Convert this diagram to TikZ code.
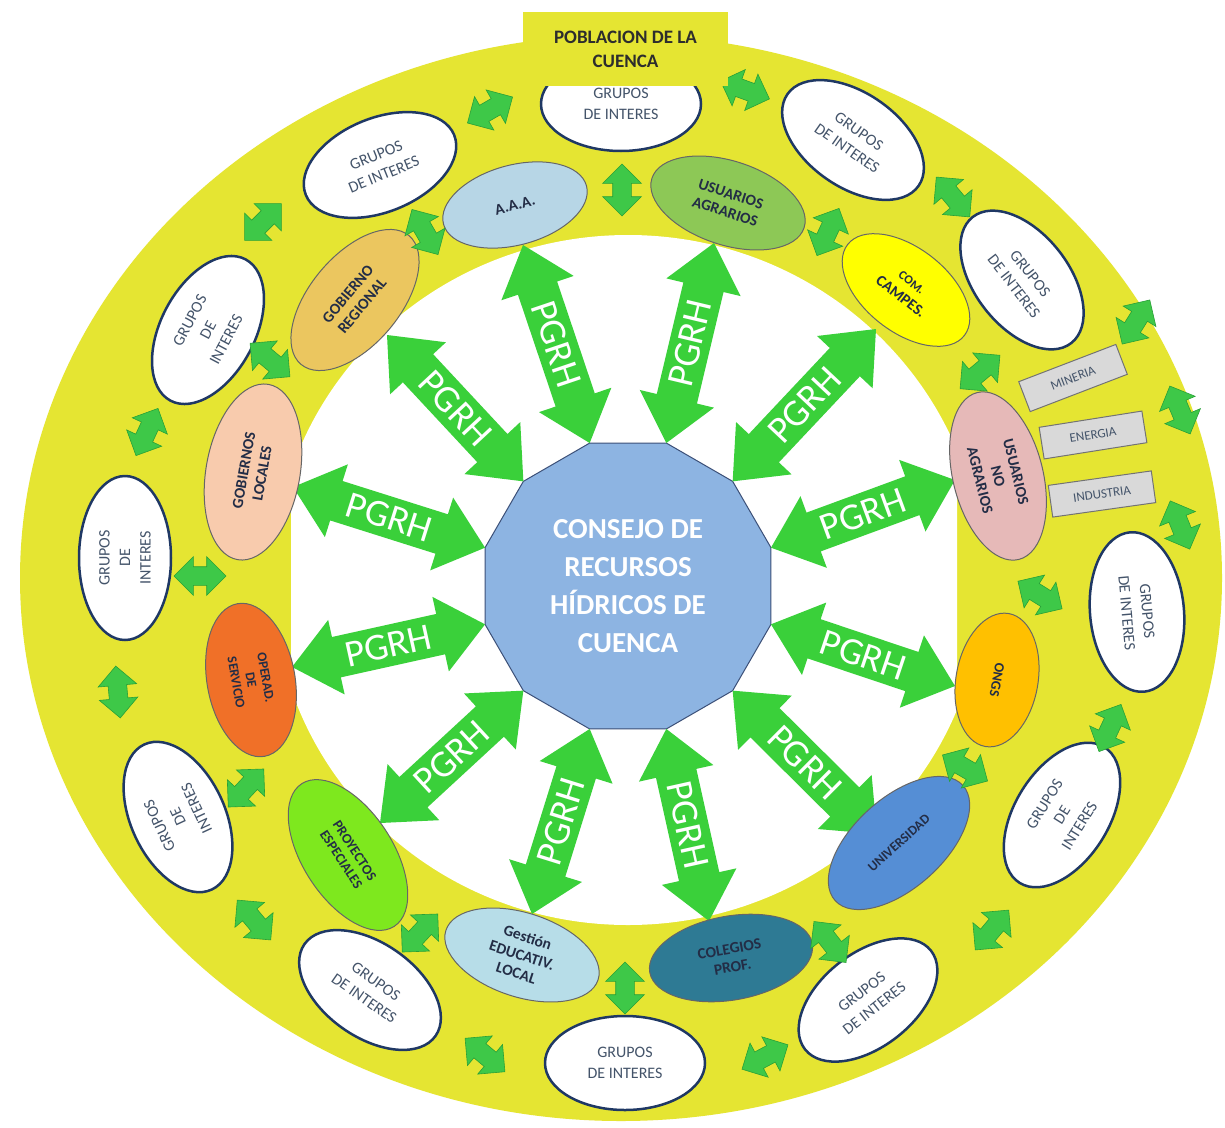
\documentclass[tikz,border=0pt]{standalone}
\usepackage{fontspec}
\setmainfont{Carlito}
\usetikzlibrary{shapes.geometric,shapes.arrows,calc}

\definecolor{band}{RGB}{229,229,50}
\definecolor{pgrhgreen}{RGB}{58,208,58}
\definecolor{linkgreen}{RGB}{62,200,72}
\definecolor{linkline}{RGB}{40,160,55}
\definecolor{navy}{RGB}{31,56,100}
\definecolor{slate}{RGB}{68,84,106}
\definecolor{ink}{RGB}{35,45,70}
\definecolor{titleink}{RGB}{45,45,45}
\definecolor{consejofill}{RGB}{141,180,226}
\definecolor{consejoline}{RGB}{60,80,120}
\definecolor{aaafill}{RGB}{183,214,230}
\definecolor{usagfill}{RGB}{141,200,86}
\definecolor{comcfill}{RGB}{255,255,0}
\definecolor{usnafill}{RGB}{230,185,184}
\definecolor{ongsfill}{RGB}{255,192,0}
\definecolor{univfill}{RGB}{85,142,213}
\definecolor{colegfill}{RGB}{46,122,148}
\definecolor{gestfill}{RGB}{183,221,232}
\definecolor{proyfill}{RGB}{126,232,30}
\definecolor{operfill}{RGB}{240,112,40}
\definecolor{goblfill}{RGB}{248,203,173}
\definecolor{gobrfill}{RGB}{235,198,95}

\tikzset{
  grupos/.style={ellipse, draw=navy, line width=2.5pt, fill=white, text=slate,
    inner sep=0pt, minimum width=160pt, minimum height=94pt, align=center,
    font=\fontsize{16}{20.5}\selectfont},
  actor/.style={ellipse, draw=black!60, line width=1pt, inner sep=0pt,
    minimum width=160pt, minimum height=84pt, align=center, text=ink,
    font=\bfseries\fontsize{15.5}{18.5}\selectfont},
  pgrh/.style={double arrow, fill=pgrhgreen, text=white, inner xsep=2pt,
    inner ysep=8pt, double arrow head extend=17.5pt, double arrow tip angle=80,
    font=\fontsize{38}{38}\selectfont},
  link/.style={double arrow, fill=linkgreen, draw=linkline, line width=0.6pt,
    inner xsep=0pt, inner ysep=9pt, minimum height=52pt,
    double arrow head extend=10pt},
  sector/.style={rectangle, draw=black!55, line width=1pt, fill=black!15,
    minimum width=104pt, minimum height=32pt, inner sep=0pt, text=slate,
    font=\fontsize{13}{15}\selectfont},
}

% one PGRH arrow, text read from #1 towards #2
\newcommand\pgrhlink[2]{%
  \path let \p1=($(#2)-(#1)$), \n1={veclen(\x1,\y1)}, \n2={atan2(\y1,\x1)} in
    node[pgrh, minimum height=\n1, rotate=\n2] (pgrh-#1) at ($(#1)!0.5!(#2)$) {PGRH};}

\begin{document}
\begin{tikzpicture}[x=1pt,y=-1pt]
\useasboundingbox (0,0) rectangle (1225,1127);
\fill[white] (0,0) rectangle (1225,1127);

%Shape: outer band
\fill[band] (621,578) ellipse [x radius=601pt, y radius=543pt];
%Shape: inner white field
\begin{scope}
  \clip (291,0) rectangle (957,1127);
  \fill[white] (628,580) ellipse [x radius=355pt, y radius=345pt];
\end{scope}

%Shape: central dodecagon
\node[regular polygon, regular polygon sides=12, minimum size=296pt, inner sep=0pt,
  fill=consejofill, draw=consejoline, line width=1pt, text=white, align=center,
  font=\bfseries\fontsize{29}{38}\selectfont] (consejo) at (628,586)
  {CONSEJO DE\\RECURSOS\\HÍDRICOS DE\\CUENCA};
\foreach \a in {15,45,...,345}
  \coordinate (v\a) at ($(consejo.center)+(\a:148pt)$);

% arrow ends on the actors
\coordinate (taaa) at (523,245);
\coordinate (tusag) at (714,243);
\coordinate (tcomc) at (876,329);
\coordinate (tusna) at (955,480);
\coordinate (tongs) at (955,686);
\coordinate (tuniv) at (877,834);
\coordinate (tcoleg) at (709,921);
\coordinate (tgest) at (532,914);
\coordinate (tproy) at (380,823);
\coordinate (toper) at (292,667);
\coordinate (tgobl) at (293,487);
\coordinate (tgobr) at (387,335);

%Shape: PGRH arrows
\pgrhlink{taaa}{v105}
\pgrhlink{v75}{tusag}
\pgrhlink{v45}{tcomc}
\pgrhlink{v15}{tusna}
\pgrhlink{v345}{tongs}
\pgrhlink{v315}{tuniv}
\pgrhlink{v285}{tcoleg}
\pgrhlink{tgest}{v255}
\pgrhlink{tproy}{v225}
\pgrhlink{toper}{v195}
\pgrhlink{tgobl}{v165}
\pgrhlink{tgobr}{v135}

%Shape: inner ring of actors
\node[actor, fill=aaafill, rotate=15, minimum width=148pt, minimum height=80pt] (aaa) at (515,205) {A.A.A.};
\node[actor, fill=usagfill, rotate=-18] (usag) at (728,203) {USUARIOS\\AGRARIOS};
\node[actor, fill=comcfill, rotate=-38, minimum width=148pt] (comc) at (906,290)
  {{\fontsize{12.5}{14}\selectfont COM.}\\CAMPES.};
\node[actor, fill=usnafill, rotate=-76, minimum width=172pt, minimum height=90pt] (usna) at (998,476)
  {USUARIOS\\NO\\AGRARIOS};
\node[actor, fill=ongsfill, rotate=-100, minimum width=135pt, minimum height=82pt,
  font=\bfseries\fontsize{14}{16}\selectfont] (ongs) at (997,680) {ONGS};
\node[actor, fill=univfill, rotate=42, minimum width=172pt, minimum height=90pt,
  font=\bfseries\fontsize{13.5}{15}\selectfont] (univ) at (899,843) {UNIVERSIDAD};
\node[actor, fill=colegfill, rotate=10, minimum width=165pt] (coleg) at (731,958) {COLEGIOS\\PROF.};
\node[actor, fill=gestfill, rotate=-18] (gest) at (522,955) {Gestión\\EDUCATIV.\\LOCAL};
\node[actor, fill=proyfill, rotate=-57, minimum width=170pt, minimum height=90pt,
  font=\bfseries\fontsize{14}{16}\selectfont] (proy) at (348,855) {PROYECTOS\\ESPECIALES};
\node[actor, fill=operfill, rotate=-80, minimum width=155pt, minimum height=88pt,
  font=\bfseries\fontsize{13.5}{15}\selectfont] (oper) at (251,680) {OPERAD.\\DE\\SERVICIO};
\node[actor, fill=goblfill, rotate=80, minimum width=178pt, minimum height=94pt] (gobl) at (253,472)
  {GOBIERNOS\\LOCALES};
\node[actor, fill=gobrfill, rotate=50, minimum width=168pt, minimum height=90pt] (gobr) at (355,300)
  {GOBIERNO\\REGIONAL};

%Shape: outer ring of interest groups
\node[grupos] (gtop) at (621,104) {GRUPOS\\DE INTERES};
\node[grupos, rotate=22] (gnw) at (380,165) {GRUPOS\\DE INTERES};
\node[grupos, rotate=62] (gwnw) at (208,330) {GRUPOS\\DE\\INTERES};
\node[grupos, rotate=90, minimum width=164pt, minimum height=92pt] (gw) at (125,558) {GRUPOS\\DE\\INTERES};
\node[grupos, rotate=115] (gwsw) at (178,817) {GRUPOS\\DE\\INTERES};
\node[grupos, rotate=-35] (gssw) at (370,990) {GRUPOS\\DE INTERES};
\node[grupos] (gs) at (625,1063) {GRUPOS\\DE INTERES};
\node[grupos, rotate=38] (gsse) at (868,1000) {GRUPOS\\DE INTERES};
\node[grupos, rotate=58] (gese) at (1062,815) {GRUPOS\\DE\\INTERES};
\node[grupos, rotate=-85] (ge) at (1137,612) {GRUPOS\\DE INTERES};
\node[grupos, rotate=-52] (gene) at (1022,280) {GRUPOS\\DE INTERES};
\node[grupos, rotate=-35] (gnne) at (853,140) {GRUPOS\\DE INTERES};

%Shape: non-agrarian sectors
\node[sector, rotate=21] (mineria) at (1073,378) {MINERIA};
\node[sector, rotate=9] (energia) at (1093,435) {ENERGIA};
\node[sector, rotate=8] (industria) at (1102,494) {INDUSTRIA};

%Shape: small double arrows in the band
\foreach \x/\y/\r [count=\i] in {490/110/30, 745/90/-20, 622/190/90, 425/232/-60,
    263/222/45, 828/232/65, 953/197/-50, 270/360/-40, 147/432/65, 980/372/40,
    1136/322/58, 1180/410/-67, 1180/525/-68, 200/576/0, 118/692/95, 1040/595/-32,
    1110/728/65, 246/788/47, 965/768/-30, 254/920/-50, 420/933/47, 992/930/50,
    830/942/-52, 625/988/90, 485/1055/-40, 765/1057/28}
  \node[link, rotate=\r] (link\i) at (\x,\y) {};

% Text Node: title
\node[fill=band, minimum width=205pt, minimum height=74pt, inner sep=0pt, align=center,
  text=titleink, font=\bfseries\fontsize{19}{24}\selectfont] (poblacion) at (625.5,49)
  {POBLACION DE LA\\CUENCA};
\end{tikzpicture}
\end{document}
